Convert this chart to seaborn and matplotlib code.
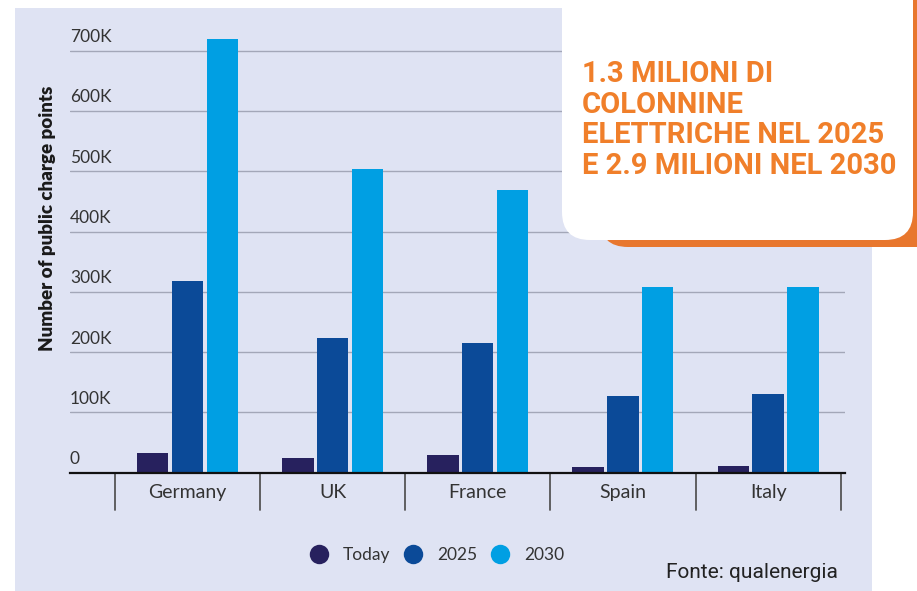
import pandas as pd
import numpy as np
import matplotlib
matplotlib.use("Agg")
import matplotlib.pyplot as plt
import matplotlib.transforms as mtransforms
from matplotlib.patches import FancyBboxPatch, Rectangle
from matplotlib.lines import Line2D
import seaborn as sns

# data
countries = ["Germany", "UK", "France", "Spain", "Italy"]
today = [33000, 24000, 30000, 9000, 11000]
y2025 = [318000, 223000, 215000, 128000, 131000]
y2030 = [720000, 503000, 469000, 308000, 308000]
series = ["Today", "2025", "2030"]
y_ticks = [0, 100000, 200000, 300000, 400000, 500000, 600000, 700000]
y_tick_labels = ["0", "100K", "200K", "300K", "400K", "500K", "600K", "700K"]
headline = "1.3 MILIONI DI\nCOLONNINE\nELETTRICHE NEL 2025\nE 2.9 MILIONI NEL 2030"
source = "Fonte: qualenergia"

colors = {"Today": "#27215e", "2025": "#0b4a98", "2030": "#009fe3"}

df = pd.DataFrame({
    "country": countries * 3,
    "series": ["Today"] * 5 + ["2025"] * 5 + ["2030"] * 5,
    "value": today + y2025 + y2030,
})

sns.set_theme(style="white")
plt.rcParams["font.family"] = ["Lato", "DejaVu Sans"]

W, H = 917, 591
fig = plt.figure(figsize=(W / 100, H / 100), dpi=100)
fig.patch.set_facecolor("white")

# panel background (pixel coords)
bg = fig.add_axes([0, 0, 1, 1], zorder=0)
bg.set_xlim(0, W)
bg.set_ylim(H, 0)
bg.axis("off")
bg.add_patch(Rectangle((15, 8), 857, 590, facecolor="#dfe3f3", edgecolor="none"))

# main chart axes: x 70..845 px, y 20.5..472.7 px
ax = fig.add_axes([70 / W, (H - 472.7) / H, 775 / W, 452.2 / H], zorder=1)
ax.set_facecolor("none")
sns.barplot(data=df, x="country", y="value", hue="series", hue_order=series,
            palette=colors, saturation=1, width=0.72, gap=0.1,
            linewidth=0, legend=False, ax=ax)

ax.set_ylim(0, 750000)
ax.set_xlim(-0.81, 4.53)
ax.set_yticks(y_ticks)
ax.set_yticklabels([])
ax.tick_params(axis="y", length=0)
ax.yaxis.grid(True, color="#a3a7b8", linewidth=1)
ax.set_axisbelow(True)
for s in ["top", "right", "left"]:
    ax.spines[s].set_visible(False)
ax.spines["bottom"].set_color("#111111")
ax.spines["bottom"].set_linewidth(1.6)
ax.tick_params(axis="x", length=0, pad=8, labelsize=14, labelcolor="#333333")
ax.set_xlabel("")
ax.set_ylabel("")

trans = mtransforms.blended_transform_factory(ax.transAxes, ax.transData)
for v, lab in zip(y_ticks, y_tick_labels):
    ax.annotate(lab, xy=(0, v), xycoords=trans, xytext=(0, 4),
                textcoords="offset points", ha="left", va="bottom",
                fontsize=12.5, color="#333333")

# category separators below the axis
sep = mtransforms.blended_transform_factory(ax.transData, ax.transAxes)
for xs in np.arange(-0.5, len(countries), 1.0):
    ax.add_line(Line2D([xs, xs], [0, -0.083], transform=sep, color="#555555",
                       linewidth=1.3, clip_on=False))

fig.text(48 / W, 1 - 218 / H, "Number of public charge points", rotation=90,
         ha="center", va="center", fontsize=13.5, fontweight="heavy", color="#1a1a1a")

handles = [Line2D([], [], marker="o", linestyle="none", markersize=14,
                  markerfacecolor=colors[s], markeredgecolor="none") for s in series]
fig.legend(handles, series, loc="center", bbox_to_anchor=(433 / W, 1 - 555 / H),
           ncol=3, frameon=False, fontsize=12.5, handletextpad=0.4,
           columnspacing=0.3, labelcolor="#333333")

fig.text(838 / W, 1 - 572 / H, source, ha="right", va="center",
         fontsize=15, family=["Roboto", "DejaVu Sans"], color="#222222")

# headline card
ov = fig.add_axes([0, 0, 1, 1], zorder=3)
ov.set_xlim(0, W)
ov.set_ylim(H, 0)
ov.axis("off")
ov.add_patch(FancyBboxPatch((600, -40), 360, 287,
                            boxstyle="round,pad=0,rounding_size=28",
                            facecolor="#e8772e", edgecolor="none"))
ov.add_patch(FancyBboxPatch((562, -40), 351, 280,
                            boxstyle="round,pad=0,rounding_size=28",
                            facecolor="white", edgecolor="none"))
ov.text(582, 60, headline, ha="left", va="top", fontsize=21,
        fontweight="bold", family=["Roboto", "DejaVu Sans"], color="#f07f2a",
        linespacing=1.12)

fig.savefig("out.png", dpi=100, facecolor="white")
